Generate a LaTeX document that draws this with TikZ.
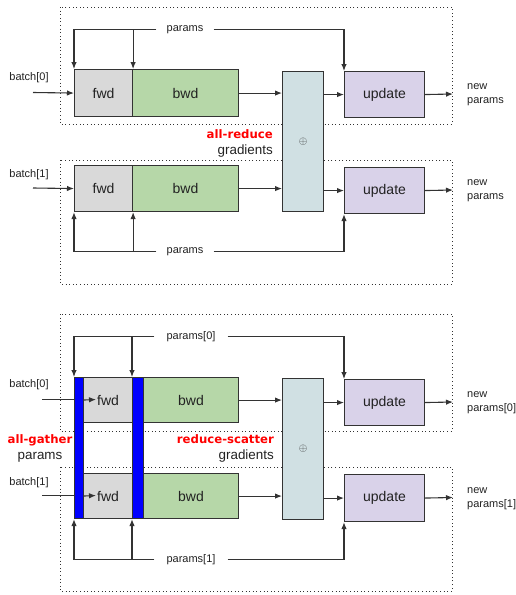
\documentclass[tikz,border=0pt]{standalone}
\usepackage{fontspec}
\setmainfont{Liberation Sans}
\newfontfamily\collfont{DejaVu Sans}
\usetikzlibrary{arrows.meta}
\definecolor{Ink}{HTML}{222222}
\definecolor{Edge}{HTML}{333333}
\definecolor{FwdFill}{HTML}{D9D9D9}
\definecolor{BwdFill}{HTML}{B6D7A8}
\definecolor{SumFill}{HTML}{D0E0E3}
\definecolor{UpdFill}{HTML}{D9D2E9}
\definecolor{Gather}{HTML}{0000FF}
\definecolor{Collective}{HTML}{FF0000}
\newcommand{\coll}[1]{{\collfont\bfseries\fontsize{11.7}{16}\selectfont\color{Collective}#1}}

\begin{document}
\begin{tikzpicture}[
  x=1pt,y=-1pt,
  box/.style={draw=Edge,line width=1.1pt,inner sep=0pt,anchor=north west,text=Ink,font=\fontsize{14}{16}\selectfont},
  fwdbox/.style={box,fill=FwdFill,minimum width=58pt,minimum height=47pt},
  bwdbox/.style={box,fill=BwdFill,minimum width=106pt,minimum height=47pt},
  sumbox/.style={box,fill=SumFill,minimum width=41pt,minimum height=140pt,text=Edge,font=\fontsize{11}{12}\selectfont},
  updbox/.style={box,fill=UpdFill,minimum width=80pt,minimum height=46pt},
  agbox/.style={box,fill=Gather,minimum height=141pt},
  group/.style={line width=1pt,draw=Edge,dash pattern=on 1pt off 2.6pt},
  lbl/.style={text=Ink,inner sep=2pt,align=center,font=\fontsize{11}{14}\selectfont},
  parlbl/.style={lbl,fill=white,inner xsep=10pt,inner ysep=1pt},
  note/.style={text=Ink,inner sep=1pt,font=\fontsize{13.4}{16}\selectfont},
  line/.style={line width=1.1pt,draw=Edge},
  arrow/.style={line,-{Latex[length=7pt,width=5.5pt]}}
]
  \useasboundingbox (0,0) rectangle (516,595);

  % all-reduce
  \draw[group] (60,7) rectangle (452,124);
  \draw[group] (60,160) rectangle (452,284);

  \node[fwdbox] (fwdA) at (74,69) {fwd};
  \node[bwdbox] (bwdA) at (132,69) {bwd};
  \node[fwdbox,minimum height=46pt] (fwdB) at (74,165) {fwd};
  \node[bwdbox,minimum height=46pt] (bwdB) at (132,165) {bwd};
  \node[sumbox] (sumA) at (282,71) {$\oplus$};
  \node[updbox] (updA) at (344,71) {update};
  \node[updbox] (updB) at (344,167) {update};

  \node[lbl] (batchA) at (29,78) {batch[0]};
  \node[lbl] (batchB) at (29,175) {batch[1]};
  \coordinate (inA) at (33,92.5);
  \coordinate (inB) at (33,188);
  \draw[arrow] (inA) -- (fwdA.west);
  \draw[arrow] (inB) -- (fwdB.west);

  \node[parlbl] (parA) at (185,29.5) {params};
  \node[parlbl] (parB) at (185,251.5) {params};
  \draw[arrow] (parA.west) -| (fwdA.north west);
  \draw[arrow] (fwdA.north east |- parA.west) -- (fwdA.north east);
  \draw[arrow] (parA.east) -| (updA.north west);
  \draw[arrow] (parB.west) -| (fwdB.south west);
  \draw[arrow] (fwdB.south east |- parB.west) -- (fwdB.south east);
  \draw[arrow] (parB.east) -| (updB.south west);

  \draw[arrow] (bwdA.east) -- (bwdA.east -| sumA.west);
  \draw[arrow] (bwdB.east) -- (bwdB.east -| sumA.west);
  \draw[arrow] (sumA.east |- updA.west) -- (updA.west);
  \draw[arrow] (sumA.east |- updB.west) -- (updB.west);

  \coordinate (outA) at (453,94);
  \coordinate (outB) at (453,190);
  \draw[arrow] (updA.east) -- (outA);
  \draw[arrow] (updB.east) -- (outB);
  \node[lbl,anchor=west,align=left] (newA) at (465,95) {new\\params};
  \node[lbl,anchor=west,align=left] (newB) at (465,191) {new\\params};

  \node[note,anchor=east,align=right] (allreduce) at (274,143) {\coll{all-reduce}\\gradients};

  % all-gather + reduce-scatter
  \draw[group] (60,314) rectangle (452,431);
  \draw[group] (60,467) rectangle (452,591);

  \node[fwdbox,minimum width=49pt,minimum height=45pt] (fwdC) at (83,377) {fwd};
  \node[bwdbox,minimum width=95pt,minimum height=45pt] (bwdC) at (143,377) {bwd};
  \node[fwdbox,minimum width=49pt,minimum height=45pt] (fwdD) at (83,473) {fwd};
  \node[bwdbox,minimum width=95pt,minimum height=45pt] (bwdD) at (143,473) {bwd};
  \node[agbox,minimum width=9pt] (agA) at (74,377) {};
  \node[agbox,minimum width=11pt] (agB) at (132,377) {};
  \node[sumbox,minimum height=141pt] (sumC) at (282,378) {$\oplus$};
  \node[updbox] (updC) at (344,379) {update};
  \node[updbox,minimum height=47pt] (updD) at (344,474) {update};

  \node[lbl] (batchC) at (29,385) {batch[0]};
  \node[lbl] (batchD) at (29,483) {batch[1]};
  \coordinate (inC) at (42,399.5);
  \coordinate (inD) at (42,495.5);
  \coordinate (tipC) at (96,399.5);
  \coordinate (tipD) at (96,495.5);
  \draw[line] (inC) -- (inC -| agA.west);
  \draw[line] (inD) -- (inD -| agA.west);
  \draw[arrow] (fwdC.west) -- (tipC);
  \draw[arrow] (fwdD.west) -- (tipD);

  \node[parlbl,inner xsep=12pt] (parC) at (191,336.5) {params[0]};
  \node[parlbl,inner xsep=12pt] (parD) at (191,559.5) {params[1]};
  \draw[arrow] (parC.west) -| (agA.north west);
  \draw[arrow] (agB.north west |- parC.west) -- (agB.north west);
  \draw[arrow] (parC.east) -| (updC.north west);
  \draw[arrow] (parD.west) -| (agA.south west);
  \draw[arrow] (agB.south west |- parD.west) -- (agB.south west);
  \draw[arrow] (parD.east) -| (updD.south west);

  \draw[arrow] (bwdC.east) -- (bwdC.east -| sumC.west);
  \draw[arrow] (bwdD.east) -- (bwdD.east -| sumC.west);
  \draw[arrow] (sumC.east |- updC.west) -- (updC.west);
  \draw[arrow] (sumC.east |- updD.west) -- (updD.west);

  \coordinate (outC) at (453,402);
  \coordinate (outD) at (453,497.5);
  \draw[arrow] (updC.east) -- (outC);
  \draw[arrow] (updD.east) -- (outD);
  \node[lbl,anchor=west,align=left] (newC) at (465,403) {new\\params[0]};
  \node[lbl,anchor=west,align=left] (newD) at (465,499) {new\\params[1]};

  \node[note,align=center] (allgather) at (40,448) {\coll{all-gather}\\params};
  \node[note,anchor=east,align=right] (reducescatter) at (275,448) {\coll{reduce-scatter}\\gradients};
\end{tikzpicture}
\end{document}
